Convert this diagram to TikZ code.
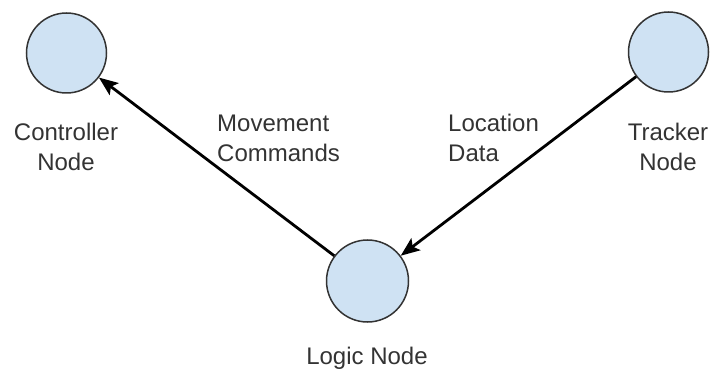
\documentclass[tikz,border=0pt]{standalone}
\usepackage{fontspec}
\setmainfont{Liberation Sans}
\usetikzlibrary{arrows.meta,positioning}
\definecolor{nodeblue}{HTML}{CFE2F3}
\definecolor{rim}{HTML}{333333}
\definecolor{txt}{HTML}{333333}

\begin{document}
\begin{tikzpicture}[x=1pt,y=-1pt,
  font=\fontsize{24}{30}\selectfont,
  ros/.style={circle,draw=rim,line width=1.5pt,fill=nodeblue,minimum size=80pt,inner sep=0pt},
  lbl/.style={text=txt,align=center,inner sep=0pt},
  msg/.style={text=txt,align=left,anchor=west,inner sep=0pt},
  flow/.style={line width=2.8pt,-{Stealth[length=19pt,width=15pt,inset=4pt]}}]
\useasboundingbox (0,0) rectangle (711,371);

% the three nodes
\node[ros] (ctrl) at (66.5,53) {};
\node[ros] (trk) at (668.5,52) {};
\node[ros,minimum size=82pt] (logic) at (367.5,281) {};

\node[lbl] (ctrllbl) at (66,147) {Controller\\Node};
\node[lbl] (trklbl) at (668,147) {Tracker\\Node};
\node[lbl] (logiclbl) at (367,358) {Logic Node};

% messages between them
\draw[flow] (logic) -- (ctrl);
\draw[flow] (trk) -- (logic);

\node[msg] (move) at (217,138) {Movement\\Commands};
\node[msg] (loc) at (448,138) {Location\\Data};
\end{tikzpicture}
\end{document}
